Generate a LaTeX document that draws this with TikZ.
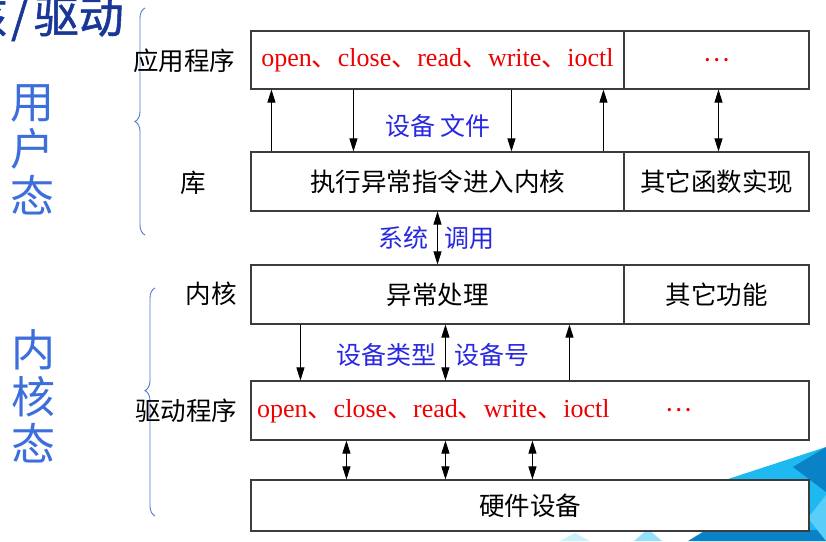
\documentclass[tikz,border=0pt]{standalone}
\usepackage{fontspec}
\setmainfont{Liberation Serif}
\newfontfamily\cjk{Noto Sans CJK SC}
\newfontfamily\cjkbold[FakeBold=1.2]{Noto Sans CJK SC}
\usetikzlibrary{arrows.meta,decorations.pathreplacing}
\definecolor{boxline}{RGB}{60,60,60}
\definecolor{lblblue}{RGB}{40,40,225}
\definecolor{bigblue}{RGB}{60,110,220}
\definecolor{braceblue}{RGB}{80,120,210}
\definecolor{titleblue}{RGB}{25,55,150}
\definecolor{redtxt}{RGB}{240,0,0}
\definecolor{bgA}{RGB}{30,185,240}
\definecolor{bgB}{RGB}{10,130,200}
\definecolor{bgC}{RGB}{90,205,248}
\definecolor{bgD}{RGB}{150,225,250}
\newcommand\dn{{\cjk 、}}
\begin{document}
\begin{tikzpicture}[x=1pt,y=-1pt,
  box/.style={draw=boxline, line width=1.1pt, fill=white, inner sep=0pt, font=\cjk\fontsize{25.5}{26}\selectfont},
  redline/.style={inner sep=0pt, text=redtxt, font=\fontsize{26}{26}\selectfont},
  dots/.style={inner sep=0pt, text=redtxt, font=\cjk\fontsize{25}{26}\selectfont},
  side/.style={inner sep=0pt, font=\cjk\fontsize{25.5}{26}\selectfont},
  lbl/.style={inner sep=0pt, text=lblblue, font=\cjk\fontsize{25}{26}\selectfont},
  big/.style={inner sep=0pt, text=bigblue, align=center, font=\cjk\fontsize{44}{47}\selectfont},
  arr/.style={line width=0.9pt, -{Triangle[length=13pt,width=8pt]}},
  darr/.style={line width=0.9pt, {Triangle[length=13pt,width=8pt]}-{Triangle[length=13pt,width=8pt]}},
  bracestyle/.style={draw=braceblue, line width=0.9pt, decorate}
]
\useasboundingbox (0,0) rectangle (826,541);
\fill[white] (0,0) rectangle (826,541);
% background decoration
\fill[bgA] (722,481) -- (826,447) -- (826,541) -- (700,541) -- cycle;
\fill[bgB] (793,467) -- (826,447) -- (826,492) -- cycle;
\fill[bgB] (688,541) -- (706,530) -- (826,530) -- (826,541) -- cycle;
\fill[bgC] (826,495) -- (808,518) -- (826,541) -- cycle;
\fill[bgD] (634,541) -- (648,529) -- (662,541) -- cycle;
\fill[bgD!50] (560,541) -- (575,533) -- (590,541) -- cycle;

% title fragment
\node[inner sep=0pt, anchor=east, text=titleblue, font=\cjkbold\fontsize{45}{46}\selectfont] (title) at (124,18) {核\hspace{4pt}/\hspace{5pt}驱动};

% big vertical labels
\node[big] (user) at (32,150) {用\\户\\态};
\node[big] (kern) at (33,396) {内\\核\\态};

% braces
\draw[bracestyle, decoration={brace, amplitude=10pt}] (145,235) -- (145,8);
\draw[bracestyle, decoration={brace, amplitude=10pt, aspect=0.55}] (155,516) -- (155,288);

% side labels
\node[side] (lapp) at (184,61) {应用程序};
\node[side] (llib) at (193,183) {库};
\node[side] (lker) at (211,294) {内核};
\node[side] (ldrv) at (186,411) {驱动程序};

% boxes
\node[box, minimum width=373, minimum height=58] (appa) at (437.5,60) {};
\node[redline] (apptxt) at (437.5,60) {open\dn close\dn read\dn write\dn ioctl};
\node[box, minimum width=185, minimum height=58] (appb) at (716.5,60) {};
\node[dots] (appdots) at (716.5,60) {…};

\node[box, minimum width=373, minimum height=59] (lib) at (437.5,181.5) {执行异常指令进入内核};
\node[box, minimum width=185, minimum height=59] (libb) at (716.5,181.5) {其它函数实现};

\node[box, minimum width=373, minimum height=59] (exc) at (437.5,294.5) {异常处理};
\node[box, minimum width=185, minimum height=59] (othf) at (716.5,294.5) {其它功能};

\node[box, minimum width=558, minimum height=59] (drv) at (530,410.5) {};
\node[redline, anchor=west] (drvtxt) at (257,411) {open\dn close\dn read\dn write\dn ioctl};
\node[dots] (drvdots) at (679,410) {…};

\node[box, minimum width=558, minimum height=51] (hw) at (530,505.5) {硬件设备};

% arrows app <-> lib
\draw[arr] ([xshift=21pt]lib.north west) -- ([xshift=21pt]appa.south west);
\draw[arr] ([xshift=103pt]appa.south west) -- ([xshift=103pt]lib.north west);
\draw[arr] ([xshift=261pt]appa.south west) -- ([xshift=261pt]lib.north west);
\draw[arr] ([xshift=353pt]lib.north west) -- ([xshift=353pt]appa.south west);
\draw[darr] ([xshift=2pt]appb.south) -- ([xshift=2pt]libb.north);
% system call
\draw[darr] (lib.south) -- (exc.north);
% kernel <-> driver
\draw[arr] ([xshift=50pt]exc.south west) -- ([xshift=50pt]drv.north west);
\draw[darr] ([xshift=195pt]exc.south west) -- ([xshift=195pt]drv.north west);
\draw[arr] ([xshift=319pt]drv.north west) -- ([xshift=319pt]exc.south west);
% driver <-> hardware
\draw[darr] ([xshift=96pt]drv.south west) -- ([xshift=96pt]hw.north west);
\draw[darr] ([xshift=195pt]drv.south west) -- ([xshift=195pt]hw.north west);
\draw[darr] ([xshift=282pt]drv.south west) -- ([xshift=282pt]hw.north west);

% blue labels
\node[lbl] (devfile) at (438,126) {设备 文件};
\node[lbl, anchor=east] (sys1) at (429,238) {系统};
\node[lbl, anchor=west] (sys2) at (444,238) {调用};
\node[lbl, anchor=east] (dt1) at (437,355) {设备类型};
\node[lbl, anchor=west] (dt2) at (454,355) {设备号};
\end{tikzpicture}
\end{document}
